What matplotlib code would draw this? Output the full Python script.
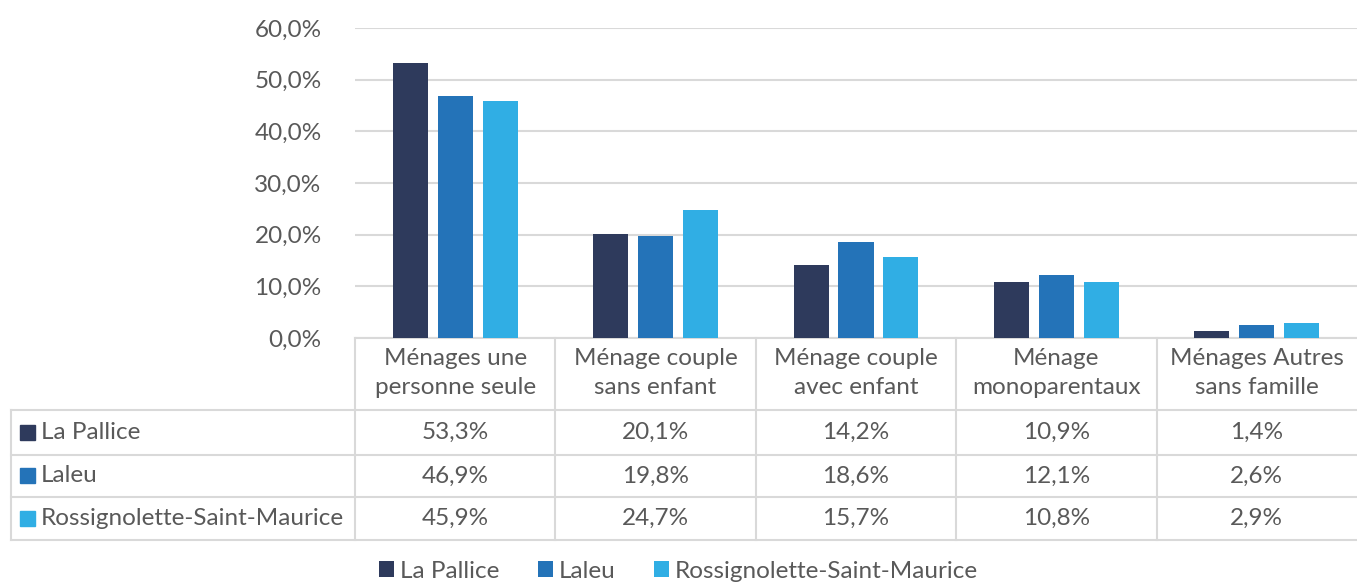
import numpy as np
import matplotlib.pyplot as plt
from matplotlib.patches import Rectangle
from matplotlib.transforms import blended_transform_factory

plt.rcParams['font.family'] = ['Lato', 'DejaVu Sans']

categories = ['Ménages une\npersonne seule', 'Ménage couple\nsans enfant',
              'Ménage couple\navec enfant', 'Ménage\nmonoparentaux',
              'Ménages Autres\nsans famille']
series = ['La Pallice', 'Laleu', 'Rossignolette-Saint-Maurice']
la_pallice = [53.3, 20.1, 14.2, 10.9, 1.4]
laleu = [46.9, 19.8, 18.6, 12.1, 2.6]
rossignolette = [45.9, 24.7, 15.7, 10.8, 2.9]
colors = ['#2e3a5c', '#2473b8', '#30aee4']
yticks = [0, 10, 20, 30, 40, 50, 60]

TXT = '#595959'
GRID = '#d9d9d9'
W, H = 1357, 587
fs = 17.5

fig = plt.figure(figsize=(W / 100, H / 100), dpi=100)
ax = fig.add_axes([355 / W, 1 - 338 / H, 1 - 355 / W, 310 / H])

values = [la_pallice, laleu, rossignolette]
x = np.arange(len(categories))
bw = 0.175
step = 0.224
for i, (vals, name, c) in enumerate(zip(values, series, colors)):
    ax.bar(x + (i - 1) * step, vals, width=bw, color=c, label=name, zorder=3)

ax.set_xlim(-0.5, len(categories) - 0.5)
ax.set_ylim(0, 60)
ax.set_yticks(yticks)
ax.set_yticklabels([f'{v:.1f}%'.replace('.', ',') for v in yticks], fontsize=fs, color=TXT)
ax.tick_params(axis='y', length=0, pad=24)
ax.set_xticks([])
ax.grid(axis='y', color=GRID, linewidth=1.5, zorder=0)
for s in ax.spines.values():
    s.set_visible(False)

# data table below the plot, columns aligned with categories
tr = blended_transform_factory(ax.transData, fig.transFigure)
x_left = -0.5 - (355 - 10) / 201
y_hdr_top = 1 - 338 / H
y_rows = [1 - 410 / H, 1 - 455 / H, 1 - 497 / H, 1 - 540 / H]

def hline(x0, x1, y):
    ax.plot([x0, x1], [y, y], transform=tr, color=GRID, lw=1.5, clip_on=False)

def vline(xx, y0, y1):
    ax.plot([xx, xx], [y0, y1], transform=tr, color=GRID, lw=1.5, clip_on=False)

hline(-0.5, len(categories) - 0.5, y_hdr_top)
for y in y_rows:
    hline(x_left, len(categories) - 0.5, y)
vline(x_left, y_rows[0], y_rows[-1])
for k in range(len(categories)):
    vline(k - 0.5, y_hdr_top, y_rows[-1])

for k, cat in enumerate(categories):
    ax.text(k, (y_hdr_top + y_rows[0]) / 2 + 1 / H, cat, transform=tr, ha='center', va='center',
            fontsize=fs, color=TXT, linespacing=1.45)

for r, (vals, name, c) in enumerate(zip(values, series, colors)):
    yc = (y_rows[r] + y_rows[r + 1]) / 2
    ax.add_patch(Rectangle((20 / W, yc - 7 / H), 15 / W, 15 / H, transform=fig.transFigure,
                           color=c, clip_on=False))
    ax.text(41 / W, yc, name, transform=fig.transFigure, ha='left', va='center',
            fontsize=fs, color=TXT)
    for k, v in enumerate(vals):
        ax.text(k, yc, f'{v:.1f}%'.replace('.', ','), transform=tr, ha='center',
                va='center', fontsize=fs, color=TXT)

leg = fig.legend(loc='lower center', bbox_to_anchor=(0.5, -0.028), ncol=3, frameon=False,
                 fontsize=fs, handlelength=0.6, handleheight=0.6, handletextpad=0.25,
                 columnspacing=1.6)
for t in leg.get_texts():
    t.set_color(TXT)

fig.savefig('out.png', dpi=100)
